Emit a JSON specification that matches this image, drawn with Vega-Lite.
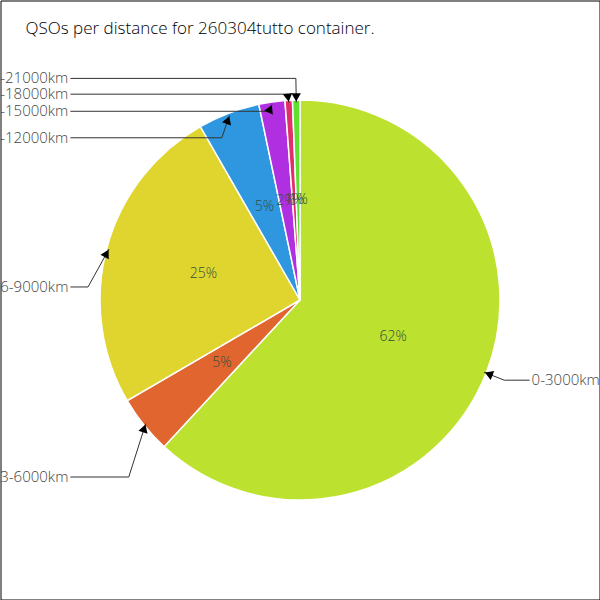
{
  "$schema": "https://vega.github.io/schema/vega-lite/v6.json",
  "width": 599,
  "height": 599,
  "autosize": {"type": "none"},
  "padding": 0.5,
  "background": "white",
  "view": {"stroke": "black", "strokeWidth": 1},
  "title": {
    "text": "QSOs per distance for 260304tutto container.",
    "orient": "none",
    "anchor": "start",
    "frame": "group",
    "dx": 25,
    "dy": 28,
    "baseline": "middle",
    "fontSize": 17,
    "font": "Open Sans",
    "fontWeight": 300,
    "color": "black"
  },
  "data": {
    "values": [
      {"range": "0-3000km", "count": 619, "idx": 1},
      {"range": "3-6000km", "count": 47, "idx": 2},
      {"range": "6-9000km", "count": 251, "idx": 3},
      {"range": "9-12000km", "count": 50, "idx": 4},
      {"range": "12-15000km", "count": 21, "idx": 5},
      {"range": "15-18000km", "count": 6, "idx": 6},
      {"range": "18-21000km", "count": 6, "idx": 7}
    ]
  },
  "layer": [
    {
      "mark": {"type": "arc", "outerRadius": 200, "stroke": "white", "strokeWidth": 1.5},
      "encoding": {
        "theta": {"field": "count", "type": "quantitative", "stack": true},
        "order": {"field": "idx", "type": "quantitative"},
        "color": {
          "field": "range",
          "type": "nominal",
          "scale": {
            "domain": ["0-3000km", "3-6000km", "6-9000km", "9-12000km", "12-15000km", "15-18000km", "18-21000km"],
            "range": ["#bde12f", "#e0652f", "#e0d52f", "#2f97e0", "#b02fe0", "#e02f6a", "#5fe02f"]
          },
          "legend": null
        }
      }
    },
    {
      "transform": [
        {"joinaggregate": [{"op": "sum", "field": "count", "as": "total"}]},
        {"calculate": "round(100*datum.count/datum.total) + '%'", "as": "pct"}
      ],
      "mark": {"type": "text", "radius": 100, "fontSize": 14, "font": "Open Sans", "fontWeight": 300, "color": "#2f5040"},
      "encoding": {
        "theta": {"field": "count", "type": "quantitative", "stack": true},
        "order": {"field": "idx", "type": "quantitative"},
        "text": {"field": "pct", "type": "nominal"}
      }
    },
    {
      "transform": [
        {"joinaggregate": [{"op": "sum", "field": "count", "as": "total"}]},
        {"window": [{"op": "sum", "field": "count", "as": "cum"}], "sort": [{"field": "idx", "order": "ascending"}], "frame": [null, 0]},
        {"calculate": "2*PI*(datum.cum - datum.count/2)/datum.total", "as": "mid"},
        {"calculate": "198*sin(datum.mid)", "as": "ax"},
        {"calculate": "-198*cos(datum.mid)", "as": "ay"},
        {"calculate": "datum.ax < 0 ? 'L' : 'R'", "as": "side"},
        {"calculate": "datum.side == 'L' ? datum.ay : -datum.ay", "as": "key"},
        {"window": [{"op": "row_number", "as": "rn"}], "groupby": ["side"], "sort": [{"field": "key", "order": "ascending"}]},
        {"calculate": "datum.side == 'L' ? datum.ay - 24 + (datum.rn - 1)*15.5 : datum.ay + 8 - (datum.rn - 1)*15.5", "as": "ly"},
        {"calculate": "1.11*datum.ax", "as": "ex"},
        {"calculate": "datum.side == 'L' ? -230 : 230", "as": "lx"},
        {"calculate": "datum.side == 'L' ? -232 : 232", "as": "tx"},
        {"calculate": "max(0.001, sqrt(pow(datum.ax - datum.ex, 2) + pow(datum.ay - datum.ly, 2)))", "as": "len"},
        {"calculate": "datum.ax - 5*(datum.ax - datum.ex)/datum.len", "as": "px"},
        {"calculate": "datum.ay - 5*(datum.ay - datum.ly)/datum.len", "as": "py"},
        {"calculate": "(atan2(datum.ax - datum.ex, -(datum.ay - datum.ly))*180/PI + 360) % 360", "as": "ang"}
      ],
      "layer": [
        {
          "mark": {"type": "rule", "color": "#333333", "strokeWidth": 1},
          "encoding": {
            "x": {"field": "lx", "type": "quantitative", "scale": {"domain": [-300, 300], "nice": false, "zero": false}, "axis": null},
            "x2": {"field": "ex"},
            "y": {"field": "ly", "type": "quantitative", "scale": {"domain": [-300, 300], "nice": false, "zero": false, "reverse": true}, "axis": null},
            "y2": {"field": "ly"}
          }
        },
        {
          "mark": {"type": "rule", "color": "#333333", "strokeWidth": 1},
          "encoding": {
            "x": {"field": "ex", "type": "quantitative", "scale": {"domain": [-300, 300], "nice": false, "zero": false}, "axis": null},
            "x2": {"field": "ax"},
            "y": {"field": "ly", "type": "quantitative", "scale": {"domain": [-300, 300], "nice": false, "zero": false, "reverse": true}, "axis": null},
            "y2": {"field": "ay"}
          }
        },
        {
          "mark": {"type": "point", "shape": "triangle-up", "filled": true, "color": "black", "size": 90, "opacity": 1},
          "encoding": {
            "x": {"field": "px", "type": "quantitative", "scale": {"domain": [-300, 300], "nice": false, "zero": false}, "axis": null},
            "y": {"field": "py", "type": "quantitative", "scale": {"domain": [-300, 300], "nice": false, "zero": false, "reverse": true}, "axis": null},
            "angle": {"field": "ang", "type": "quantitative", "scale": null}
          }
        },
        {
          "transform": [{"filter": "datum.side == 'L'"}],
          "mark": {"type": "text", "align": "right", "baseline": "middle", "fontSize": 15, "font": "Open Sans", "fontWeight": 300, "color": "#444444"},
          "encoding": {
            "x": {"field": "tx", "type": "quantitative", "scale": {"domain": [-300, 300], "nice": false, "zero": false}, "axis": null},
            "y": {"field": "ly", "type": "quantitative", "scale": {"domain": [-300, 300], "nice": false, "zero": false, "reverse": true}, "axis": null},
            "text": {"field": "range", "type": "nominal"}
          }
        },
        {
          "transform": [{"filter": "datum.side == 'R'"}],
          "mark": {"type": "text", "align": "left", "baseline": "middle", "fontSize": 15, "font": "Open Sans", "fontWeight": 300, "color": "#444444"},
          "encoding": {
            "x": {"field": "tx", "type": "quantitative", "scale": {"domain": [-300, 300], "nice": false, "zero": false}, "axis": null},
            "y": {"field": "ly", "type": "quantitative", "scale": {"domain": [-300, 300], "nice": false, "zero": false, "reverse": true}, "axis": null},
            "text": {"field": "range", "type": "nominal"}
          }
        }
      ]
    }
  ]
}
